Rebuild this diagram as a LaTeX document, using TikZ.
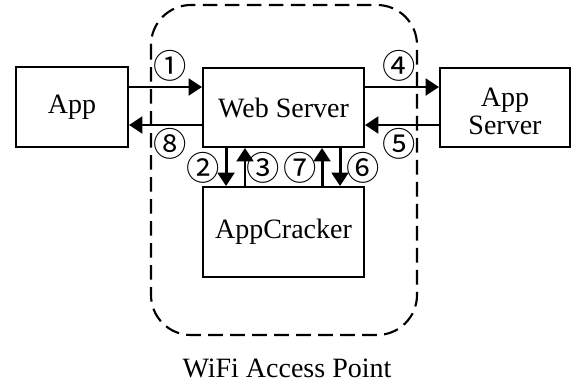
\documentclass[tikz,border=0pt]{standalone}
\usepackage{fontspec}
\setmainfont{Liberation Serif}
\newfontfamily\circfont{Noto Sans CJK SC}
\usetikzlibrary{arrows.meta}
\begin{document}
\begin{tikzpicture}[x=0.75pt,y=-0.75pt,
  box/.style={draw,line width=1.5pt,inner sep=0pt,align=center,font=\fontsize{21}{23}\selectfont},
  flow/.style={line width=2.2pt,-{Triangle[length=10pt,width=12.5pt]}},
  num/.style={inner sep=0pt,font=\circfont\fontsize{25}{25}\selectfont},
  zone/.style={draw,line width=1.6pt,dash pattern=on 11pt off 5.5pt,rounded corners=30pt}]
\useasboundingbox (0,0) rectangle (572,386);
\draw[zone] (151,5) rectangle (417,335);
\node[box,minimum width=84pt,minimum height=60pt] (app) at (72,107) {App};
\node[box,minimum width=120.75pt,minimum height=59.25pt] (web) at (283.5,107.5) {Web Server};
\node[box,minimum width=97.5pt,minimum height=59.25pt] (srv) at (505,107.5) {};
\node[align=center,font=\fontsize{21}{21}\selectfont,inner sep=0pt] (srvtext) at (505,111) {App\\Server};
\node[box,minimum width=120.75pt,minimum height=67.5pt] (crk) at (283.5,232) {AppCracker};
% horizontal arrows
\draw[flow] ([yshift=15pt]app.east) -- ([yshift=15pt]app.east -| web.west);
\draw[flow] ([yshift=-13.5pt]app.east -| web.west) -- ([yshift=-13.5pt]app.east);
\draw[flow] ([yshift=15pt]app.east -| web.east) -- ([yshift=15pt]app.east -| srv.west);
\draw[flow] ([yshift=-13.5pt]app.east -| srv.west) -- ([yshift=-13.5pt]app.east -| web.east);
% vertical arrows
\draw[flow] ([xshift=-43.1pt]web.south) -- ([xshift=-43.1pt]web.south |- crk.north);
\draw[flow] ([xshift=-28.9pt]web.south |- crk.north) -- ([xshift=-28.9pt]web.south);
\draw[flow] ([xshift=28.9pt]web.south |- crk.north) -- ([xshift=28.9pt]web.south);
\draw[flow] ([xshift=42.4pt]web.south) -- ([xshift=42.4pt]web.south |- crk.north);
% labels
\node[num] (n1) at (170,66) {①};
\node[num] (n8) at (170,144) {⑧};
\node[num] (n4) at (399,66) {④};
\node[num] (n5) at (399,144) {⑤};
\node[num] (n2) at (203,168) {②};
\node[num] (n3) at (263,168) {③};
\node[num] (n7) at (300,168) {⑦};
\node[num] (n6) at (363,168) {⑥};
\node[font=\fontsize{21}{23}\selectfont] (wifi) at (287,368) {WiFi Access Point};
\end{tikzpicture}
\end{document}
